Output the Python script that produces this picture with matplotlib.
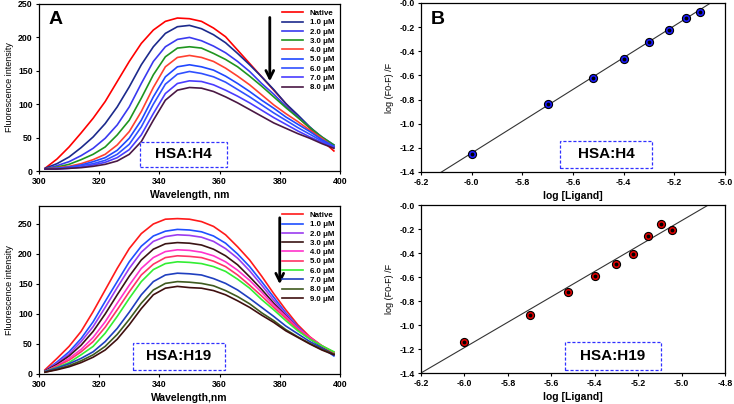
import matplotlib
matplotlib.use('Agg')
import matplotlib.pyplot as plt
from matplotlib.patches import Rectangle
import numpy as np

plt.rcParams['font.family'] = ['Liberation Sans', 'DejaVu Sans']

# wavelength grid (nm)
wl = [302, 306, 310, 314, 318, 322, 326, 330, 334, 338, 342, 346, 350,
      354, 358, 362, 366, 370, 374, 378, 382, 386, 390, 394, 398]

# HSA:H4 quenching spectra
h4_labels = ['Native', '1.0 \u03bcM', '2.0 \u03bcM', '3.0 \u03bcM', '4.0 \u03bcM',
             '5.0 \u03bcM', '6.0 \u03bcM', '7.0 \u03bcM', '8.0 \u03bcM']
h4_colors = ['#ff0000', '#1c2a8c', '#3a3af0', '#1f951f', '#ff4030',
             '#2048ff', '#3050ff', '#4a3cff', '#4a1844']
h4_native = [4, 18, 36, 57, 79, 104, 134, 164, 191, 211, 224, 229, 228, 224, 214, 201, 181, 161, 141, 121, 101, 81, 64, 46, 30]
h4_c1 = [4, 11, 21, 35, 51, 71, 96, 126, 159, 186, 206, 216, 218, 213, 204, 192, 176, 159, 141, 122, 101, 84, 66, 50, 36]
h4_c2 = [3, 8, 14, 23, 34, 49, 69, 96, 131, 164, 186, 197, 200, 195, 187, 177, 164, 149, 131, 115, 97, 81, 65, 51, 39]
h4_c3 = [3, 6, 10, 17, 25, 36, 54, 76, 109, 144, 171, 184, 186, 184, 176, 167, 156, 142, 127, 111, 95, 80, 65, 51, 39]
h4_c4 = [3, 5, 7, 11, 17, 25, 39, 59, 89, 125, 156, 170, 173, 170, 164, 154, 142, 129, 114, 99, 86, 74, 61, 49, 36]
h4_c5 = [3, 4, 6, 9, 14, 20, 31, 49, 76, 111, 141, 156, 159, 156, 151, 142, 131, 119, 106, 94, 81, 70, 59, 47, 37]
h4_c6 = [3, 4, 5, 8, 11, 16, 25, 40, 66, 100, 130, 145, 149, 146, 141, 133, 122, 111, 99, 87, 76, 65, 55, 45, 36]
h4_c7 = [3, 3, 4, 6, 9, 13, 20, 32, 54, 86, 116, 131, 135, 134, 129, 121, 112, 102, 91, 80, 70, 60, 51, 43, 35]
h4_c8 = [3, 3, 4, 5, 7, 10, 15, 25, 44, 76, 106, 121, 125, 124, 119, 111, 102, 92, 82, 72, 64, 56, 49, 41, 34]
h4_spectra = [h4_native, h4_c1, h4_c2, h4_c3, h4_c4, h4_c5, h4_c6, h4_c7, h4_c8]

# HSA:H19 quenching spectra
h19_labels = ['Native', '1.0 \u03bcM', '2.0 \u03bcM', '3.0 \u03bcM', '4.0 \u03bcM',
              '5.0 \u03bcM', '6.0 \u03bcM', '7.0 \u03bcM', '8.0 \u03bcM', '9.0 \u03bcM']
h19_colors = ['#ff1a1a', '#1f4fff', '#9b3cf0', '#3a1414', '#ff33cc',
              '#ff3366', '#33ee33', '#1f3fbf', '#3f5a1f', '#3f0f0f']
h19_native = [7, 26, 46, 71, 104, 140, 176, 209, 234, 250, 258, 259, 258, 254, 246, 232, 212, 190, 163, 134, 107, 82, 62, 47, 33]
h19_c1 = [5, 20, 37, 59, 87, 121, 154, 187, 213, 230, 238, 241, 240, 237, 230, 218, 200, 179, 154, 128, 102, 79, 59, 44, 30]
h19_c2 = [5, 18, 33, 54, 79, 111, 144, 176, 203, 221, 229, 232, 231, 228, 221, 209, 193, 172, 148, 123, 100, 78, 59, 46, 33]
h19_c3 = [5, 16, 30, 48, 71, 100, 132, 163, 190, 208, 217, 219, 218, 215, 208, 197, 182, 162, 141, 118, 97, 76, 59, 46, 34]
h19_c4 = [4, 14, 26, 41, 61, 87, 118, 148, 176, 194, 204, 207, 206, 203, 197, 187, 173, 156, 136, 115, 96, 76, 61, 47, 36]
h19_c5 = [4, 13, 23, 37, 54, 78, 107, 137, 165, 183, 194, 197, 196, 194, 188, 179, 165, 148, 130, 111, 93, 74, 59, 47, 36]
h19_c6 = [4, 11, 19, 32, 46, 68, 96, 126, 154, 174, 184, 187, 186, 184, 179, 171, 158, 143, 124, 107, 89, 72, 58, 47, 37]
h19_c7 = [4, 10, 17, 26, 37, 54, 76, 103, 132, 154, 165, 168, 167, 165, 159, 151, 140, 126, 111, 96, 80, 67, 54, 43, 32]
h19_c8 = [3, 8, 14, 22, 32, 46, 66, 91, 118, 140, 151, 154, 153, 151, 147, 139, 129, 117, 102, 89, 74, 62, 51, 41, 33]
h19_c9 = [3, 7, 12, 19, 28, 40, 58, 82, 109, 132, 143, 146, 144, 143, 139, 132, 122, 111, 98, 86, 72, 61, 50, 40, 32]
h19_spectra = [h19_native, h19_c1, h19_c2, h19_c3, h19_c4, h19_c5, h19_c6, h19_c7, h19_c8, h19_c9]

# double log plots
h4_logL = [-6.0, -5.699, -5.523, -5.398, -5.301, -5.222, -5.155, -5.097]
h4_logF = [-1.254, -0.834, -0.619, -0.461, -0.326, -0.226, -0.124, -0.077]
h4_fit = (1.318, 6.665)   # slope, intercept

h19_logL = [-6.0, -5.699, -5.523, -5.398, -5.301, -5.222, -5.155, -5.097, -5.046]
h19_logF = [-1.139, -0.914, -0.728, -0.594, -0.492, -0.406, -0.255, -0.155, -0.211]
h19_fit = (1.058, 5.160)

fig = plt.figure(figsize=(7.34, 4.04), dpi=100)
ax1 = fig.add_axes([0.0531, 0.5767, 0.410, 0.4134])
ax3 = fig.add_axes([0.0531, 0.0743, 0.410, 0.4158])
ax2 = fig.add_axes([0.5736, 0.5743, 0.4142, 0.4183])
ax4 = fig.add_axes([0.5736, 0.0767, 0.4142, 0.4158])

tickfont = dict(fontsize=6.3, fontweight='bold')


def style(ax):
    ax.tick_params(direction='out', length=2.5, width=0.8, pad=2)
    for lab in ax.get_xticklabels() + ax.get_yticklabels():
        lab.set_fontsize(6.3)
        lab.set_fontweight('bold')
    for s in ax.spines.values():
        s.set_linewidth(0.9)


def label_box(ax, x0, y0, x1, y1, text):
    ax.add_patch(Rectangle((x0, y0), x1 - x0, y1 - y0, transform=ax.transAxes,
                           fc='white', ec='#3030ff', ls=(0, (2.5, 1.5)), lw=0.9, zorder=5))
    ax.text((x0 + x1) / 2, (y0 + y1) / 2, text, transform=ax.transAxes,
            ha='center', va='center', fontsize=11, fontweight='bold', zorder=6)


def spectra_panel(ax, spectra, labels, colors, ymax, xlab, arrow, box, boxtext):
    for y, lab, c in zip(spectra, labels, colors):
        ax.plot(wl, y, color=c, lw=1.2, label=lab)
    ax.set_xlim(300, 400)
    ax.set_ylim(0, ymax)
    ax.set_xticks([300, 320, 340, 360, 380, 400])
    ax.set_yticks(np.arange(0, 251, 50))
    ax.set_xlabel(xlab, fontsize=7.5, fontweight='bold', labelpad=3)
    ax.set_ylabel('Fluorescence intensity', fontsize=6.5, labelpad=3)
    leg = ax.legend(loc='upper right', bbox_to_anchor=(1.0, 1.0), frameon=False,
                    prop=dict(size=5.7, weight='bold'), handlelength=2.6,
                    labelspacing=0.22, handletextpad=0.9, borderaxespad=0.3)
    ax.annotate('', xy=(arrow[0], arrow[2]), xytext=(arrow[0], arrow[1]),
                arrowprops=dict(arrowstyle='->', lw=2.0, color='black', mutation_scale=14))
    label_box(ax, *box, boxtext)
    style(ax)


def log_panel(ax, x, y, fit, color, xmax, xticks, box, boxtext):
    xl = np.array([-6.3, -4.6])
    ax.plot(xl, fit[0] * xl + fit[1], color='#333333', lw=0.8)
    ax.scatter(x, y, s=34, c=color, edgecolors='black', linewidths=0.8, zorder=4)
    ax.scatter(x, y, s=3, c='black', zorder=5)
    ax.set_xlim(-6.2, xmax)
    ax.set_ylim(-1.4, 0.0)
    ax.set_xticks(xticks)
    ax.set_yticks(np.arange(-1.4, 0.01, 0.2))
    ax.xaxis.set_major_formatter(matplotlib.ticker.FormatStrFormatter('%.1f'))
    ax.yaxis.set_major_formatter(matplotlib.ticker.FormatStrFormatter('%.1f'))
    ax.set_xlabel('log [Ligand]', fontsize=7.5, fontweight='bold', labelpad=3)
    ax.set_ylabel('log (F0-F) /F', fontsize=6.5, labelpad=4)
    label_box(ax, *box, boxtext)
    style(ax)


spectra_panel(ax1, h4_spectra, h4_labels, h4_colors, 250, 'Wavelength, nm',
              (376.7, 234, 130), (0.336, 0.024, 0.625, 0.174), 'HSA:H4')
spectra_panel(ax3, h19_spectra, h19_labels, h19_colors, 280, 'Wavelength,nm',
              (380.0, 265, 145), (0.312, 0.024, 0.618, 0.185), 'HSA:H19')

log_panel(ax2, h4_logL, h4_logF, h4_fit, '#1a1aff', -5.0,
          np.arange(-6.2, -4.99, 0.2), (0.457, 0.024, 0.760, 0.183), 'HSA:H4')
log_panel(ax4, h19_logL, h19_logF, h19_fit, '#e00000', -4.8,
          np.arange(-6.2, -4.79, 0.2), (0.474, 0.018, 0.789, 0.185), 'HSA:H19')

ax1.text(0.055, 0.91, 'A', transform=ax1.transAxes, ha='center', va='center',
         fontsize=14, fontweight='bold')
ax2.text(0.054, 0.902, 'B', transform=ax2.transAxes, ha='center', va='center',
         fontsize=14, fontweight='bold')

fig.savefig('out.png', dpi=100)
